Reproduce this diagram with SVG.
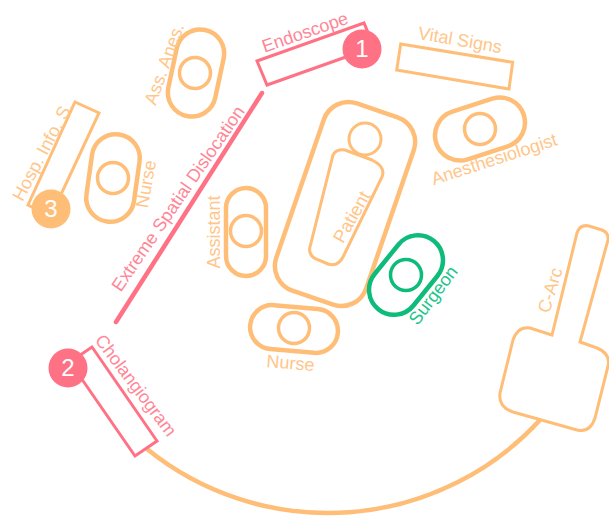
<svg xmlns="http://www.w3.org/2000/svg" width="609" height="516" viewBox="0 0 609 516">
<style>
.o{fill:none;stroke:#ffbe78}
.p{fill:none;stroke:#ff7285}
.g{fill:none;stroke:#0dbb7b}
.cap{stroke-width:4.5}
.head{stroke-width:3.5}
.box{stroke-width:3}
text{font-family:"Liberation Sans",Arial,sans-serif;font-size:18px;text-anchor:middle}
.to{fill:#ffc68a}.tp{fill:#ff8696}.tg{fill:#22c48a}
.n{fill:#fff;font-size:24px}
</style>
<rect width="609" height="516" fill="#fff"/>
<g id="connectors">
<path class="o" stroke-width="4.5" d="M147 449A288 288 0 0 0 540 420"/>
<path class="p" stroke-width="4.5" stroke-linecap="round" d="M262 93L116 322"/>
<text class="tp" transform="translate(183 202) rotate(-55.5)">Extreme Spatial Dislocation</text>
</g>
<g id="ass-anes">
<rect class="o cap" x="-24" y="-44" width="48" height="88" rx="24" transform="translate(196 73) rotate(12)"/>
<circle class="o head" cx="195" cy="73" r="15.5"/>
<text class="to" transform="translate(170 66) rotate(-70)">Ass. Anes.</text>
</g>
<g id="nurse-1">
<rect class="o cap" x="-24" y="-44" width="48" height="88" rx="24" transform="translate(113 178) rotate(8)"/>
<circle class="o head" cx="113" cy="178" r="15.5"/>
<text class="to" transform="translate(152 185) rotate(-80)">Nurse</text>
</g>
<g id="hosp">
<path class="o box" d="M75 102L99 113L51 216L28 205Z"/>
<text class="to" transform="translate(48 154) rotate(-62)">Hosp. Info. S.</text>
<circle cx="51" cy="209" r="19.5" fill="#ffbe78"/>
<text class="n" x="51" y="217">3</text>
</g>
<g id="endoscope">
<path class="p box" d="M257 61L364 23L374 47L267 85Z"/>
<text class="tp" transform="translate(307 38) rotate(-19)">Endoscope</text>
<circle cx="362" cy="49" r="19.5" fill="#ff7285"/>
<text class="n" x="362" y="57">1</text>
</g>
<g id="vital-signs">
<path class="o box" d="M400.7 44L512.7 62.3L509 89L396.7 70Z"/>
<text class="to" transform="translate(459 46) rotate(10)">Vital Signs</text>
</g>
<g id="patient">
<rect class="o cap" x="-47.5" y="-99" width="95" height="198" rx="26" transform="translate(345 204) rotate(19)"/>
<circle class="o" stroke-width="3" cx="365" cy="139" r="16"/>
<path class="o" stroke-width="3" d="M333 155Q336 149 345 150L372 160Q386 167 382 177L343 257Q338 267 328 264L316 259Q308 255 310 247Z"/>
<text class="to" transform="translate(357 220) rotate(-60)">Patient</text>
</g>
<g id="anesthesiologist">
<rect class="o cap" x="-46" y="-25" width="92" height="50" rx="25" transform="translate(480 129) rotate(-18)"/>
<circle class="o head" cx="480" cy="129" r="15.5"/>
<text class="to" transform="translate(496 165) rotate(-18)">Anesthesiologist</text>
</g>
<g id="assistant">
<rect class="o cap" x="-20" y="-44" width="40" height="88" rx="20" transform="translate(246 232)"/>
<circle class="o head" cx="246" cy="231" r="15.5"/>
<text class="to" transform="translate(220 232) rotate(-90)">Assistant</text>
</g>
<g id="surgeon">
<rect class="g cap" x="-25" y="-44" width="50" height="88" rx="25" transform="translate(406 275) rotate(39)"/>
<circle class="g head" cx="406" cy="275" r="15.5"/>
<text class="tg" transform="translate(438 299) rotate(-53)">Surgeon</text>
</g>
<g id="nurse-2">
<rect class="o cap" x="-44" y="-22" width="88" height="44" rx="22" transform="translate(294 329) rotate(5)"/>
<circle class="o head" cx="294" cy="328" r="15.5"/>
<text class="to" transform="translate(290 369) rotate(5)">Nurse</text>
</g>
<g id="cholangiogram">
<path class="p box" d="M92 347L157 441L135 456L70 362Z"/>
<text class="tp" transform="translate(131 389) rotate(53)">Cholangiogram</text>
<circle cx="68" cy="368" r="19.5" fill="#ff7285"/>
<text class="n" x="68" y="376">2</text>
</g>
<g id="c-arc">
<path class="o box" d="M552 335L577 233Q580 224 589 226L602 230Q609 233 608 240L580 342L597 348Q611 354 608 366L595 418Q590 433 577 430L513 412Q498 407 500 393L513 340Q518 326 530 328Z"/>
<text class="to" transform="translate(556 292) rotate(-73)">C-Arc</text>
</g>
</svg>
